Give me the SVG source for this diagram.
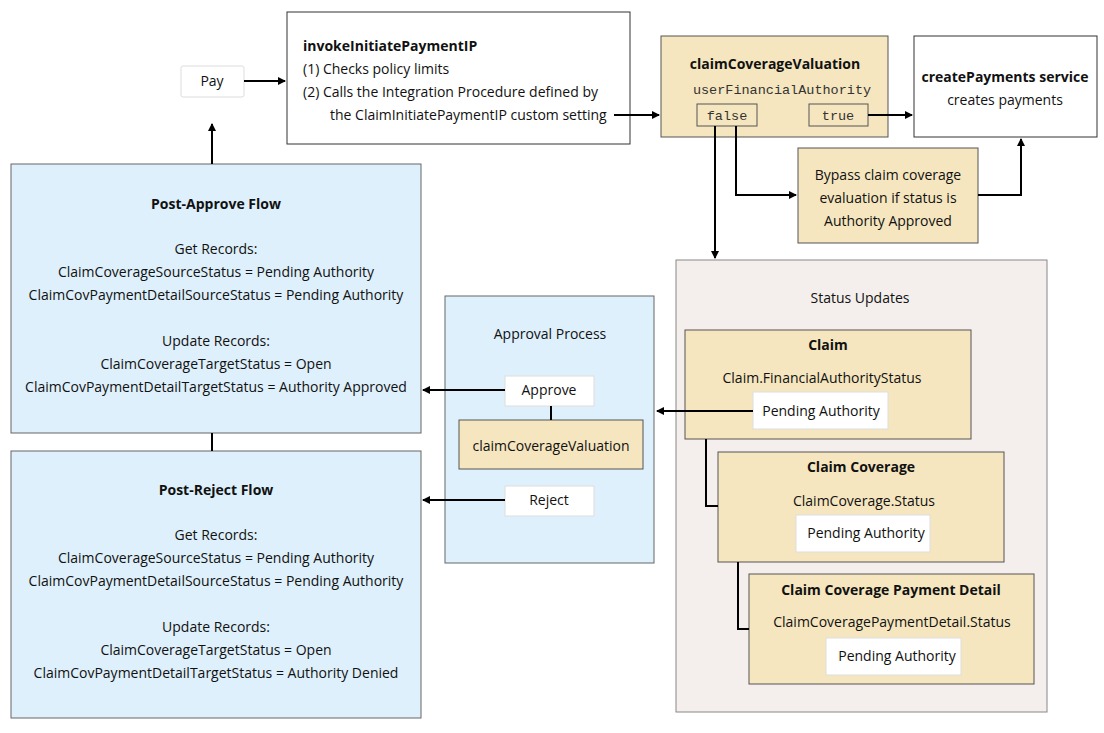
<svg xmlns="http://www.w3.org/2000/svg" width="1104" height="733" viewBox="0 0 1104 733">
<style>
text{font-family:"Open Sans","Noto Sans",sans-serif;font-size:14px;fill:#111;text-anchor:middle}
.b{font-weight:bold}
.l{text-anchor:start}
.m{font-family:"Liberation Mono",monospace;font-size:13.5px;fill:#333}
.w{fill:#fff;stroke:#ddd}
.wb{fill:#fff;stroke:#333}
.y{fill:#f5e6bf;stroke:#555}
.bl{fill:#def0fc;stroke:#666}
.c{fill:none;stroke:#000;stroke-width:2}
</style>
<defs><marker id="a" markerWidth="8" markerHeight="8" refX="7" refY="4" orient="auto" markerUnits="userSpaceOnUse"><path d="M0,0L8,4L0,8z" fill="#000"/></marker></defs>
<rect width="1104" height="733" fill="#fff"/>
<g id="pay"><rect class="w" x="181" y="66" width="63" height="31" rx="2"/><text x="212" y="86">Pay</text></g>
<g id="invoke"><rect class="wb" x="287" y="12" width="343" height="132"/>
<text class="b l" x="303" y="51">invokeInitiatePaymentIP</text>
<text class="l" x="303" y="74">(1)  Checks policy limits</text>
<text class="l" x="303" y="97">(2)  Calls the Integration Procedure defined by</text>
<text class="l" x="330" y="120">the ClaimInitiatePaymentIP custom setting</text></g>
<g id="ccv"><rect class="y" x="661" y="36" width="227" height="101"/>
<text class="b" x="775" y="69">claimCoverageValuation</text>
<text class="m" x="782" y="94">userFinancialAuthority</text>
<rect class="y" x="697" y="104" width="60" height="22" stroke="#333"/><text class="m" x="727" y="120">false</text>
<rect class="y" x="809" y="104" width="59" height="22" stroke="#333"/><text class="m" x="838" y="120">true</text></g>
<g id="create"><rect class="wb" x="914" y="36" width="183" height="101"/>
<text class="b" x="1005" y="82">createPayments service</text><text x="1005" y="105">creates payments</text></g>
<g id="bypass"><rect class="y" x="798" y="148" width="180" height="95"/>
<text x="888" y="180">Bypass claim coverage</text><text x="888" y="203">evaluation if status is</text><text x="888" y="226">Authority Approved</text></g>
<g id="status"><rect x="676" y="260" width="371" height="452" fill="#f4efec" stroke="#888"/>
<text x="860" y="303">Status Updates</text></g>
<g id="claim"><rect class="y" x="685" y="330" width="286" height="109"/>
<text class="b" x="828" y="350">Claim</text><text x="822" y="383">Claim.FinancialAuthorityStatus</text>
<rect class="w" x="753" y="392" width="135" height="37"/><text x="821" y="416">Pending Authority</text></g>
<g id="cc"><rect class="y" x="718" y="452" width="286" height="110"/>
<text class="b" x="861" y="472">Claim Coverage</text><text x="864" y="506">ClaimCoverage.Status</text>
<rect class="w" x="796" y="515" width="134" height="37"/><text x="866" y="538">Pending Authority</text></g>
<g id="ccpd"><rect class="y" x="749" y="574" width="285" height="110"/>
<text class="b" x="891" y="595">Claim Coverage Payment Detail</text><text x="892" y="627">ClaimCoveragePaymentDetail.Status</text>
<rect class="w" x="826" y="638" width="135" height="37"/><text x="897" y="661">Pending Authority</text></g>
<g id="approval"><rect class="bl" x="445" y="296" width="209" height="267"/>
<text x="550" y="339">Approval Process</text>
<rect class="w" x="505" y="376" width="89" height="30"/><text x="549" y="395">Approve</text>
<rect class="y" x="459" y="420" width="184" height="49"/><text x="551" y="451">claimCoverageValuation</text>
<rect class="w" x="505" y="486" width="89" height="30"/><text x="549" y="505">Reject</text></g>
<g id="postApprove"><rect class="bl" x="11" y="164" width="410" height="269"/>
<text class="b" x="216" y="209">Post-Approve Flow</text>
<text x="216" y="254">Get Records:</text>
<text x="216" y="277">ClaimCoverageSourceStatus = Pending Authority</text>
<text x="216" y="300">ClaimCovPaymentDetailSourceStatus = Pending Authority</text>
<text x="216" y="346">Update Records:</text>
<text x="216" y="369">ClaimCoverageTargetStatus = Open</text>
<text x="216" y="392">ClaimCovPaymentDetailTargetStatus = Authority Approved</text></g>
<g id="postReject"><rect class="bl" x="11" y="451" width="410" height="267"/>
<text class="b" x="216" y="495">Post-Reject Flow</text>
<text x="216" y="540">Get Records:</text>
<text x="216" y="563">ClaimCoverageSourceStatus = Pending Authority</text>
<text x="216" y="586">ClaimCovPaymentDetailSourceStatus = Pending Authority</text>
<text x="216" y="632">Update Records:</text>
<text x="216" y="655">ClaimCoverageTargetStatus = Open</text>
<text x="216" y="678">ClaimCovPaymentDetailTargetStatus = Authority Denied</text></g>
<g id="connectors">
<path class="c" d="M244,81H285" marker-end="url(#a)"/>
<path class="c" d="M614,115H659" marker-end="url(#a)"/>
<path class="c" d="M868,115H912" marker-end="url(#a)"/>
<path class="c" d="M736,126V195H796" marker-end="url(#a)"/>
<path class="c" d="M715,126V258" marker-end="url(#a)"/>
<path class="c" d="M978,195H1021V139" marker-end="url(#a)"/>
<path class="c" d="M753,411H657" marker-end="url(#a)"/>
<path class="c" d="M706,439V506H718"/>
<path class="c" d="M738,562V629H749"/>
<path class="c" d="M551,406V420"/>
<path class="c" d="M505,390H423" marker-end="url(#a)"/>
<path class="c" d="M505,500H423" marker-end="url(#a)"/>
<path class="c" d="M212,433V451"/>
<path class="c" d="M212,164V124" marker-end="url(#a)"/>
</g>
</svg>
